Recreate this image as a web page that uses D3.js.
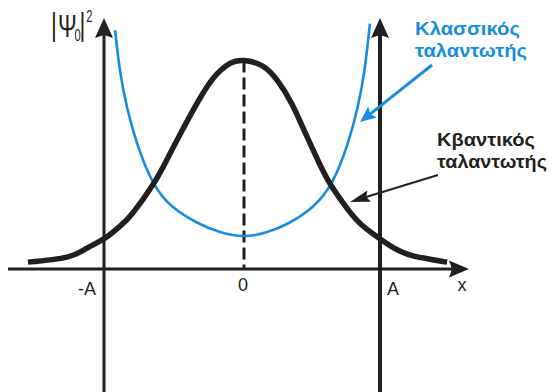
<!DOCTYPE html>
<html>
<head>
<meta charset="utf-8">
<script src="https://cdn.jsdelivr.net/npm/d3@7/dist/d3.min.js"></script>
<style>
  html, body { margin: 0; padding: 0; background: #fff; }
  svg { display: block; font-family: "Liberation Sans", Arial, sans-serif; }
</style>
</head>
<body>
<svg id="chart" width="553" height="392"></svg>
<script>
// Position in units of the amplitude A, probability density relative to the quantum peak
const quantumX = [-1.543, -1.264, -1.121, -0.993, -0.886, -0.793, -0.65, -0.55, -0.457, -0.336, -0.221, -0.10, 0,
                  0.132, 0.25, 0.353, 0.449, 0.537, 0.632, 0.765, 0.86, 0.971, 1.103, 1.25, 1.493];
const quantumY = [0.033, 0.057, 0.100, 0.148, 0.205, 0.270, 0.405, 0.525, 0.645, 0.794, 0.914, 0.986, 1.0,
                  0.975, 0.90, 0.79, 0.655, 0.53, 0.41, 0.285, 0.215, 0.158, 0.100, 0.062, 0.033];

const classicalX = [-0.921, -0.886, -0.836, -0.764, -0.65, -0.507, -0.336, -0.171, 0,
                    0.171, 0.336, 0.507, 0.65, 0.764, 0.836, 0.886, 0.926];
const classicalY = [1.146, 0.954, 0.777, 0.604, 0.417, 0.297, 0.223, 0.177, 0.158,
                    0.177, 0.223, 0.300, 0.420, 0.605, 0.778, 0.955, 1.177];

const tickValues = [-1, 0, 1];
const tickLabels = ["-A", "0", "A"];

const classicalLabel = ["Κλασσικός", "ταλαντωτής"];
const quantumLabel = ["Κβαντικός", "ταλαντωτής"];

const INK = "#231f20";
const BLUE = "#168de0";

const svg = d3.select("#chart");

const x = d3.scaleLinear().domain([-1, 0, 1]).range([104, 244, 380]);
const y = d3.scaleLinear().domain([0, 1]).range([269, 60.5]);

// arrow head pointing along +x, tip at origin
function head(len, half, notch) {
  return `M0,0 L${-len},${-half} L${-len + notch},0 L${-len},${half} Z`;
}
function drawHead(px, py, angleDeg, len, half, notch, color) {
  svg.append("path")
    .attr("d", head(len, half, notch))
    .attr("transform", `translate(${px},${py}) rotate(${angleDeg})`)
    .attr("fill", color);
}

// horizontal x axis
const xLeft = x.invert(8), xRight = x.invert(469);
svg.append("line")
  .attr("x1", x(xLeft)).attr("x2", x(xRight) - 10)
  .attr("y1", y(0)).attr("y2", y(0))
  .attr("stroke", INK).attr("stroke-width", 3);
drawHead(x(xRight), y(0), 0, 20, 8.5, 3, INK);

// vertical lines at -A and A, with arrows
const yTop = y.invert(18);
[[-1, 3], [1, 4]].forEach(([v, w]) => {
  svg.append("line")
    .attr("x1", x(v)).attr("x2", x(v))
    .attr("y1", 392).attr("y2", y(yTop) + 10)
    .attr("stroke", INK).attr("stroke-width", w);
  drawHead(x(v), y(yTop), -90, 20, 9, 3, INK);
});

// dashed line under the peak
svg.append("line")
  .attr("x1", x(0)).attr("x2", x(0))
  .attr("y1", y(1)).attr("y2", y(0))
  .attr("stroke", INK).attr("stroke-width", 3)
  .attr("stroke-dasharray", "12,5");

const line = d3.line().curve(d3.curveNatural);

// classical oscillator
svg.append("path")
  .attr("d", line(classicalX.map((v, i) => [x(v), y(classicalY[i])])))
  .attr("fill", "none").attr("stroke", BLUE).attr("stroke-width", 2.6);

// quantum oscillator
svg.append("path")
  .attr("d", line(quantumX.map((v, i) => [x(v), y(quantumY[i])])))
  .attr("fill", "none").attr("stroke", INK).attr("stroke-width", 5.5);

// tick labels
const tickOffsets = [{ dx: -8, dy: 26, anchor: "end" }, { dx: -1, dy: 22, anchor: "middle" }, { dx: 7, dy: 26, anchor: "start" }];
tickValues.forEach((v, i) => {
  svg.append("text")
    .attr("x", x(v) + tickOffsets[i].dx).attr("y", y(0) + tickOffsets[i].dy)
    .attr("text-anchor", tickOffsets[i].anchor)
    .attr("font-size", 18).attr("fill", INK)
    .text(tickLabels[i]);
});
svg.append("text")
  .attr("x", 462).attr("y", y(0) + 22)
  .attr("text-anchor", "middle")
  .attr("font-size", 18).attr("fill", INK)
  .text("x");

// y label |Ψ0|², set in a horizontally condensed face
const yl = svg.append("g").attr("fill", INK).attr("transform", "translate(51,0) scale(0.7,1)");
yl.append("text").attr("x", 4.3).attr("y", 35.5).attr("font-size", 32).attr("text-anchor", "middle").text("|");
yl.append("text").attr("x", 10).attr("y", 37).attr("font-size", 32).text("Ψ");
yl.append("text").attr("x", 33.5).attr("y", 41.5).attr("font-size", 16).text("0");
yl.append("text").attr("x", 45).attr("y", 35.5).attr("font-size", 32).attr("text-anchor", "middle").text("|");
yl.append("text").attr("x", 50.5).attr("y", 22).attr("font-size", 16).text("2");

// annotations
function label(lines, widths, lx, ly, color) {
  const g = svg.append("g").attr("fill", color).attr("font-size", 18.5).attr("font-weight", "bold");
  lines.forEach((s, i) => g.append("text")
    .attr("x", lx).attr("y", ly + i * 21.5)
    .attr("textLength", widths[i]).attr("lengthAdjust", "spacingAndGlyphs")
    .text(s));
}
label(classicalLabel, [105, 112], 415, 35, BLUE);
label(quantumLabel, [98, 110], 437, 146, INK);

// pointer arrows
function pointer(x0, y0, x1, y1, color, w, len, half) {
  const ang = Math.atan2(y1 - y0, x1 - x0);
  svg.append("line")
    .attr("x1", x0).attr("y1", y0)
    .attr("x2", x1 - Math.cos(ang) * (len - 4)).attr("y2", y1 - Math.sin(ang) * (len - 4))
    .attr("stroke", color).attr("stroke-width", w);
  drawHead(x1, y1, ang * 180 / Math.PI, len, half, 3, color);
}
pointer(432, 65, 360, 122, BLUE, 3, 16, 7);
pointer(438, 175, 350, 202, INK, 2, 20, 6);
</script>
</body>
</html>
